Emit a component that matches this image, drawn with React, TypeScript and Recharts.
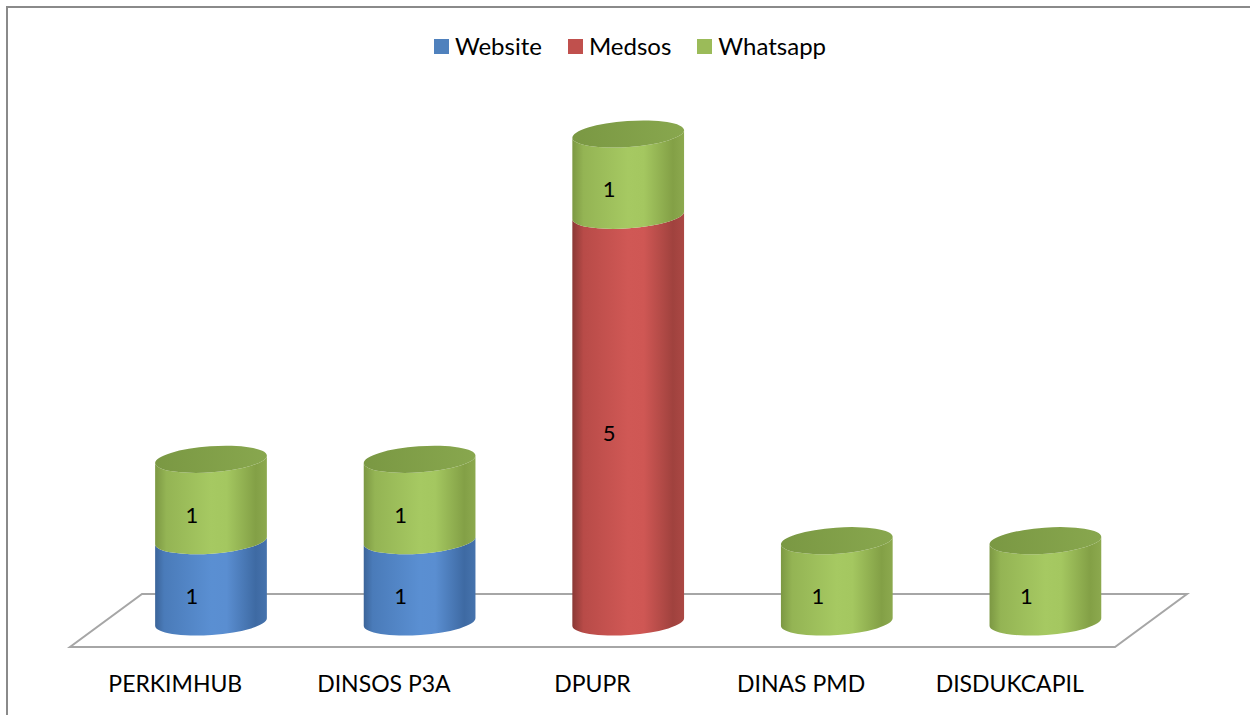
import { BarChart, Bar, XAxis, YAxis, LabelList } from 'recharts'

const CATEGORIES = ['PERKIMHUB', 'DINSOS P3A', 'DPUPR', 'DINAS PMD', 'DISDUKCAPIL']
const WEBSITE = [1, 1, 0, 0, 0]
const MEDSOS = [0, 0, 5, 0, 0]
const WHATSAPP = [1, 1, 1, 1, 1]
const SERIES_NAMES = ['Website', 'Medsos', 'Whatsapp']
const Y_TICKS = [0, 1, 2, 3, 4, 5, 6]

const COLORS: Record<string, { base: string; stops: [number, string][]; cap: [string, string] }> = {
    Website: {
        base: '#4F81BD',
        stops: [[0, '#3b6499'], [0.08, '#4a7bb9'], [0.5, '#5a8fd2'], [0.64, '#5a8ed1'], [0.9, '#3e6aa3'], [1, '#4673ad']],
        cap: ['#44709f', '#5683bd'],
    },
    Medsos: {
        base: '#C0504D',
        stops: [[0, '#8a3835'], [0.1, '#b84b48'], [0.5, '#d05855'], [0.64, '#cf5754'], [0.9, '#a0423e'], [1, '#ab4844']],
        cap: ['#a84440', '#b84e4a'],
    },
    Whatsapp: {
        base: '#9BBB59',
        stops: [[0, '#7c9843'], [0.1, '#94b454'], [0.5, '#a6c962'], [0.64, '#a4c760'], [0.9, '#83a046'], [1, '#8ca94e']],
        cap: ['#7a9843', '#88a74e'],
    },
}

const data = CATEGORIES.map((name, i) => ({
    name,
    Website: WEBSITE[i] || null,
    Medsos: MEDSOS[i] || null,
    Whatsapp: WHATSAPP[i] || null,
}))

const FONT = 'Lato, "Open Sans", sans-serif'
const TILT = 4
const RY = 13

function Cylinder(props: any) {
    const { x, y, width, height, series, payload } = props
    if (!height || height <= 0) return null
    const idx = SERIES_NAMES.indexOf(series)
    const isTop = SERIES_NAMES.slice(idx + 1).every((k) => !payload[k])
    const rx = width / 2
    const cx = x + rx
    const a = (TILT * Math.PI) / 180
    const dx = rx * Math.cos(a)
    const dy = rx * Math.sin(a)
    const yTop = y
    const yBot = y + height
    const body = `M${cx - dx},${yTop + dy} L${cx - dx},${yBot + dy} A${rx},${RY} ${-TILT} 0 0 ${cx + dx},${yBot - dy} L${cx + dx},${yTop - dy} A${rx},${RY} ${-TILT} 0 1 ${cx - dx},${yTop + dy} Z`
    return (
        <g>
            <path d={body} fill={`url(#grad-${series})`} />
            {isTop && (
                <ellipse
                    cx={cx}
                    cy={yTop}
                    rx={rx}
                    ry={RY}
                    transform={`rotate(${-TILT} ${cx} ${yTop})`}
                    fill={`url(#cap-${series})`}
                />
            )}
        </g>
    )
}

function SegmentLabel(props: any) {
    const { x, y, width, height, value } = props
    if (!value) return null
    return (
        <text
            x={x + width / 2 - 19}
            y={y + height / 2 + 14}
            textAnchor="middle"
            dominantBaseline="central"
            fontFamily={FONT}
            fontSize={22}
            fill="#000"
        >
            {value}
        </text>
    )
}

function CategoryTick(props: any) {
    const { x, y, payload } = props
    return (
        <text x={x - 36} y={y + 61} textAnchor="middle" dominantBaseline="central" fontFamily={FONT} fontSize={23} fill="#000">
            {payload.value}
        </text>
    )
}

export default function App() {
    return (
        <div style={{ position: 'absolute', left: 0, top: 0, width: 1250, height: 715, background: '#fff', overflow: 'hidden' }}>
            <div style={{ position: 'absolute', left: 6, top: 6, width: 1300, height: 760, borderTop: '2px solid #8a8a8a', borderLeft: '2px solid #8a8a8a' }} />
            <svg width={1250} height={715} style={{ position: 'absolute', left: 0, top: 0 }}>
                <polygon points="142,594 1187,594 1115,647 70,647" fill="#fff" stroke="#a6a6a6" strokeWidth={2} />
            </svg>
            <div
                style={{
                    position: 'absolute',
                    top: 31,
                    left: 0,
                    width: 1250,
                    display: 'flex',
                    justifyContent: 'center',
                    paddingLeft: 10,
                    boxSizing: 'border-box',
                    fontFamily: FONT,
                    fontSize: 24,
                    lineHeight: '30px',
                    color: '#000',
                    gap: 26,
                }}
            >
                {SERIES_NAMES.map((s) => (
                    <div key={s} style={{ display: 'flex', alignItems: 'center', gap: 6 }}>
                        <span style={{ width: 15, height: 15, background: COLORS[s].base, display: 'inline-block' }} />
                        <span>{s}</span>
                    </div>
                ))}
            </div>
            <div style={{ position: 'absolute', left: 0, top: 0 }}>
                <BarChart width={1250} height={715} data={data} margin={{ top: 134, right: 100, bottom: 63, left: 107 }}>
                    <defs>
                        {SERIES_NAMES.map((s) => (
                            <linearGradient key={s} id={`grad-${s}`} x1="0" y1="0" x2="1" y2="0">
                                {COLORS[s].stops.map(([o, c]) => (
                                    <stop key={o} offset={o} stopColor={c} />
                                ))}
                            </linearGradient>
                        ))}
                        {SERIES_NAMES.map((s) => (
                            <linearGradient key={s} id={`cap-${s}`} x1="0" y1="0" x2="1" y2="0">
                                <stop offset={0} stopColor={COLORS[s].cap[0]} />
                                <stop offset={1} stopColor={COLORS[s].cap[1]} />
                            </linearGradient>
                        ))}
                    </defs>
                    <XAxis dataKey="name" axisLine={false} tickLine={false} tickSize={0} tickMargin={0} height={30} interval={0} tick={<CategoryTick />} />
                    <YAxis hide domain={[0, 6]} ticks={Y_TICKS} />
                    {SERIES_NAMES.map((s) => (
                        <Bar
                            key={s}
                            dataKey={s}
                            stackId="a"
                            barSize={112}
                            isAnimationActive={false}
                            shape={(p: any) => <Cylinder {...p} series={s} />}
                        >
                            <LabelList dataKey={s} content={<SegmentLabel />} />
                        </Bar>
                    ))}
                </BarChart>
            </div>
        </div>
    )
}
